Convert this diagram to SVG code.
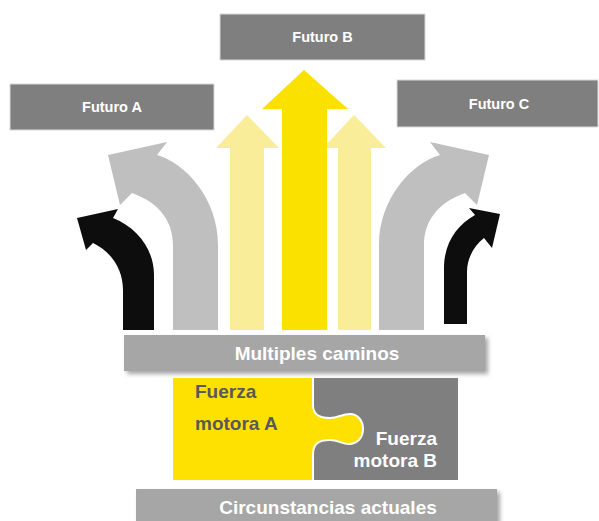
<svg xmlns="http://www.w3.org/2000/svg" width="599" height="521" viewBox="0 0 599 521">
<style>
.box{fill:#7f7f7f;stroke:#d9d9d9;stroke-width:1}
.bar{fill:#a6a6a6}
.lbl{font-family:"Liberation Sans",Arial,sans-serif;font-weight:bold;fill:#ffffff}
.dark{fill:#595959}
</style>
<defs>
<filter id="sh" x="-5%" y="-30%" width="115%" height="170%">
<feDropShadow dx="3" dy="3" stdDeviation="2" flood-color="#000" flood-opacity="0.35"/>
</filter>
</defs>
<rect width="599" height="521" fill="#ffffff"/>
<g id="connectors">
<path d="M173,330 V245 C173,222 160,203 132,193 L120,205 L108,155 L167,142 L157,155 C185,163 218,198 218,245 V330 Z" fill="#bfbfbf"/>
<path d="M173,330 V245 C173,222 160,203 132,193 L120,205 L108,155 L167,142 L157,155 C185,163 218,198 218,245 V330 Z" fill="#bfbfbf" transform="translate(597,0) scale(-1,1)"/>
<path d="M123,330 V290 C123,270 112,252 93,243 L86,250 L77,218 L118,209 L113,218 C138,228 154,250 154,275 V330 Z" fill="#0d0d0d"/>
<path d="M444,324 V268 C444,243 457,225 475,215 L469,208 L500,214 L492,248 L484,238 C474,246 467,258 467,272 V324 Z" fill="#0d0d0d"/>
<path d="M230,330 V148 H216 L247,115 L279,148 H264 V330 Z" fill="#f9ed99"/>
<path d="M338,330 V148 H323 L354,115 L386,148 H371 V330 Z" fill="#f9ed99"/>
<path d="M282,330 V109 H262 L304,70 L348,109 H327 V330 Z" fill="#fae100"/>
</g>
<g id="futuroA">
<rect class="box" x="10" y="84" width="204" height="46"/>
<text class="lbl" x="112" y="112" font-size="14.5" text-anchor="middle">Futuro A</text>
</g>
<g id="futuroB">
<rect class="box" x="220" y="14" width="205" height="46"/>
<text class="lbl" x="322.5" y="42" font-size="14.5" text-anchor="middle">Futuro B</text>
</g>
<g id="futuroC">
<rect class="box" x="397" y="80" width="201" height="47"/>
<text class="lbl" x="499" y="109" font-size="14.5" text-anchor="middle">Futuro C</text>
</g>
<g id="multiples">
<rect class="bar" x="124" y="335" width="361" height="36" filter="url(#sh)"/>
<text class="lbl" x="317" y="360" font-size="19" text-anchor="middle">Multiples caminos</text>
</g>
<g id="fuerzaB">
<rect x="313" y="378" width="145" height="102" fill="#7f7f7f"/>
<text class="lbl" x="437" y="445" font-size="19" text-anchor="end">Fuerza</text>
<text class="lbl" x="437" y="467" font-size="19" text-anchor="end">motora B</text>
</g>
<g id="fuerzaA">
<path d="M173,378 H313 V405 C313,414 318,418 330,418 C338,418 342,414 350,414 C358,414 363,421 363,429 C363,438 357,444 349,444 C342,444 338,440 330,440 C318,440 313,444 313,455 V480 H173 Z" fill="#ffe100"/>
<path d="M313,378 V405 C313,414 318,418 330,418 C338,418 342,414 350,414 C358,414 363,421 363,429 C363,438 357,444 349,444 C342,444 338,440 330,440 C318,440 313,444 313,455 V480" fill="none" stroke="#ffffff" stroke-width="2"/>
<text class="lbl dark" x="195" y="398" font-size="19">Fuerza</text>
<text class="lbl dark" x="195" y="430" font-size="19">motora A</text>
</g>
<g id="circunstancias">
<rect class="bar" x="136" y="489" width="361" height="40" filter="url(#sh)"/>
<text class="lbl" x="328" y="514" font-size="19" text-anchor="middle">Circunstancias actuales</text>
</g>
</svg>
